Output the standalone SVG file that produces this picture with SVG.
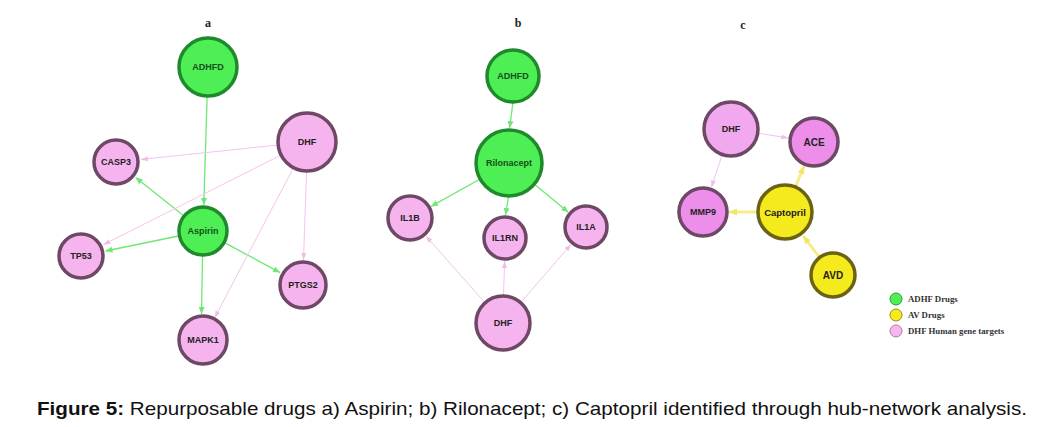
<svg xmlns="http://www.w3.org/2000/svg" width="1039" height="427" viewBox="0 0 1039 427">
<style>
.g{fill:#4eee55;stroke:#1f8a2c;stroke-width:3.5}
.p{fill:#f6b4ee;stroke:#6e4865;stroke-width:3.5}
.m{fill:#ec8eea;stroke:#6e4865;stroke-width:3.5}
.y{fill:#f5ea1c;stroke:#6b6212;stroke-width:3.5}
.lbl{font-family:"Liberation Sans",Arial,sans-serif;font-weight:bold;font-size:9px;text-anchor:middle;fill:#222}
.lg{fill:#14501c}
.ttl{font-family:"Liberation Serif","Times New Roman",serif;font-weight:bold;font-size:12px;text-anchor:middle;fill:#222}
.eg{stroke:#6ee872;stroke-width:1.3;fill:none;marker-end:url(#ag)}
.ep{stroke:#f2c4ec;stroke-width:1;fill:none;marker-end:url(#ap)}
.ey{stroke:#f6ec8a;stroke-width:3;fill:none;marker-end:url(#ay)}
.leg{font-family:"Liberation Serif","Times New Roman",serif;font-weight:bold;font-size:8.8px;fill:#333}
.cap{font-family:"Liberation Sans",Arial,sans-serif;font-size:19px;fill:#111}
</style>
<defs>
<marker id="ag" markerUnits="userSpaceOnUse" markerWidth="8" markerHeight="8" refX="7" refY="4" orient="auto"><path d="M0,1 L7,4 L0,7 z" fill="#6ee872"/></marker>
<marker id="ap" markerUnits="userSpaceOnUse" markerWidth="8" markerHeight="8" refX="7" refY="4" orient="auto"><path d="M0,1.5 L7,4 L0,6.5 z" fill="#f0bce8"/></marker>
<marker id="ay" markerUnits="userSpaceOnUse" markerWidth="9" markerHeight="9" refX="8" refY="4.5" orient="auto"><path d="M0,1 L8,4.5 L0,8 z" fill="#f3e46a"/></marker>
</defs>
<rect width="1039" height="427" fill="#fff"/>
<text class="ttl" x="208" y="27">a</text>
<text class="ttl" x="518" y="27">b</text>
<text class="ttl" x="743" y="29">c</text>
<g id="connectors">
<line class="eg" x1="207.1" y1="97" x2="203.8" y2="205"/>
<line class="eg" x1="183.4" y1="215.5" x2="135.6" y2="177.6"/>
<line class="eg" x1="178.5" y1="236" x2="105.5" y2="251"/>
<line class="eg" x1="225" y1="242.9" x2="280.1" y2="272.6"/>
<line class="eg" x1="202.5" y1="256" x2="201.5" y2="314"/>
<line class="ep" x1="277.2" y1="145.1" x2="140.9" y2="159.4"/>
<line class="ep" x1="280.2" y1="155.5" x2="103.3" y2="244.7"/>
<line class="ep" x1="293" y1="168.6" x2="214.6" y2="317.9"/>
<line class="ep" x1="306.5" y1="172" x2="303.5" y2="260"/>
<line class="eg" x1="512.9" y1="103" x2="509.6" y2="128"/>
<line class="eg" x1="479.3" y1="179.5" x2="431" y2="206.4"/>
<line class="eg" x1="508.5" y1="197" x2="505.5" y2="215"/>
<line class="eg" x1="535.1" y1="184.7" x2="568.3" y2="212.3"/>
<line class="ep" x1="484.4" y1="302" x2="425.9" y2="236"/>
<line class="ep" x1="503.5" y1="295" x2="504.7" y2="261"/>
<line class="ep" x1="521.3" y1="301.8" x2="571" y2="244.4"/>
<line class="ep" x1="758.7" y1="133.3" x2="788.3" y2="138"/>
<line class="ep" x1="722" y1="155.5" x2="711.3" y2="187.4"/>
<line class="ey" x1="795.7" y1="186.1" x2="804" y2="166"/>
<line class="ey" x1="757" y1="212" x2="729" y2="212"/>
<line class="ey" x1="819" y1="256.7" x2="803.2" y2="235.9"/>
</g>
<g id="a-adhfd"><circle class="g" cx="208" cy="67" r="29"/><text class="lbl lg" x="208" y="70">ADHFD</text></g>
<g id="a-dhf"><circle class="p" cx="307" cy="142" r="29"/><text class="lbl" x="307" y="145">DHF</text></g>
<g id="a-casp3"><circle class="p" cx="116" cy="162" r="22"/><text class="lbl" x="116" y="165">CASP3</text></g>
<g id="a-aspirin"><circle class="g" cx="203" cy="231" r="24"/><text class="lbl lg" x="203" y="234">Aspirin</text></g>
<g id="a-tp53"><circle class="p" cx="81" cy="256" r="22"/><text class="lbl" x="81" y="259">TP53</text></g>
<g id="a-ptgs2"><circle class="p" cx="303" cy="285" r="23"/><text class="lbl" x="303" y="288">PTGS2</text></g>
<g id="a-mapk1"><circle class="p" cx="203" cy="340" r="24"/><text class="lbl" x="203" y="343">MAPK1</text></g>
<g id="b-adhfd"><circle class="g" cx="513" cy="76" r="26"/><text class="lbl lg" x="513" y="79">ADHFD</text></g>
<g id="b-rilonacept"><circle class="g" cx="509" cy="163" r="33"/><text class="lbl lg" x="509" y="166">Rilonacept</text></g>
<g id="b-il1b"><circle class="p" cx="410" cy="218" r="22"/><text class="lbl" x="410" y="221">IL1B</text></g>
<g id="b-il1rn"><circle class="p" cx="505" cy="238" r="21"/><text class="lbl" x="505" y="241">IL1RN</text></g>
<g id="b-il1a"><circle class="p" cx="586" cy="227" r="21"/><text class="lbl" x="586" y="230">IL1A</text></g>
<g id="b-dhf"><circle class="p" cx="503" cy="323" r="27"/><text class="lbl" x="503" y="326">DHF</text></g>
<g id="c-dhf"><circle class="p" cx="731" cy="129" r="27" style="fill:#f2a8ee"/><text class="lbl" x="731" y="132">DHF</text></g>
<g id="c-ace"><circle class="m" cx="814" cy="142" r="24"/><text class="lbl" x="814" y="145.5" style="font-size:10px">ACE</text></g>
<g id="c-mmp9"><circle class="m" cx="703" cy="212" r="24"/><text class="lbl" x="703" y="215">MMP9</text></g>
<g id="c-captopril"><circle class="y" cx="785" cy="212" r="27"/><text class="lbl" x="785" y="215.5" style="font-size:9.5px">Captopril</text></g>
<g id="c-avd"><circle class="y" cx="833" cy="275" r="22"/><text class="lbl" x="833" y="278.5" style="font-size:10px">AVD</text></g>
<g id="legend">
<circle cx="896" cy="299" r="6" fill="#4eee55" stroke="#2a9a35" stroke-width="1"/>
<text class="leg" x="908" y="302">ADHF Drugs</text>
<circle cx="896" cy="315" r="6" fill="#f5ea1c" stroke="#9a8f10" stroke-width="1"/>
<text class="leg" x="908" y="318">AV Drugs</text>
<circle cx="896" cy="331" r="6" fill="#f6b6ee" stroke="#b07aa8" stroke-width="1"/>
<text class="leg" x="908" y="334">DHF Human gene targets</text>
</g>
<text class="cap" x="37" y="415" textLength="990" lengthAdjust="spacingAndGlyphs"><tspan font-weight="bold">Figure 5:</tspan> Repurposable drugs a) Aspirin; b) Rilonacept; c) Captopril identified through hub-network analysis.</text>
</svg>
